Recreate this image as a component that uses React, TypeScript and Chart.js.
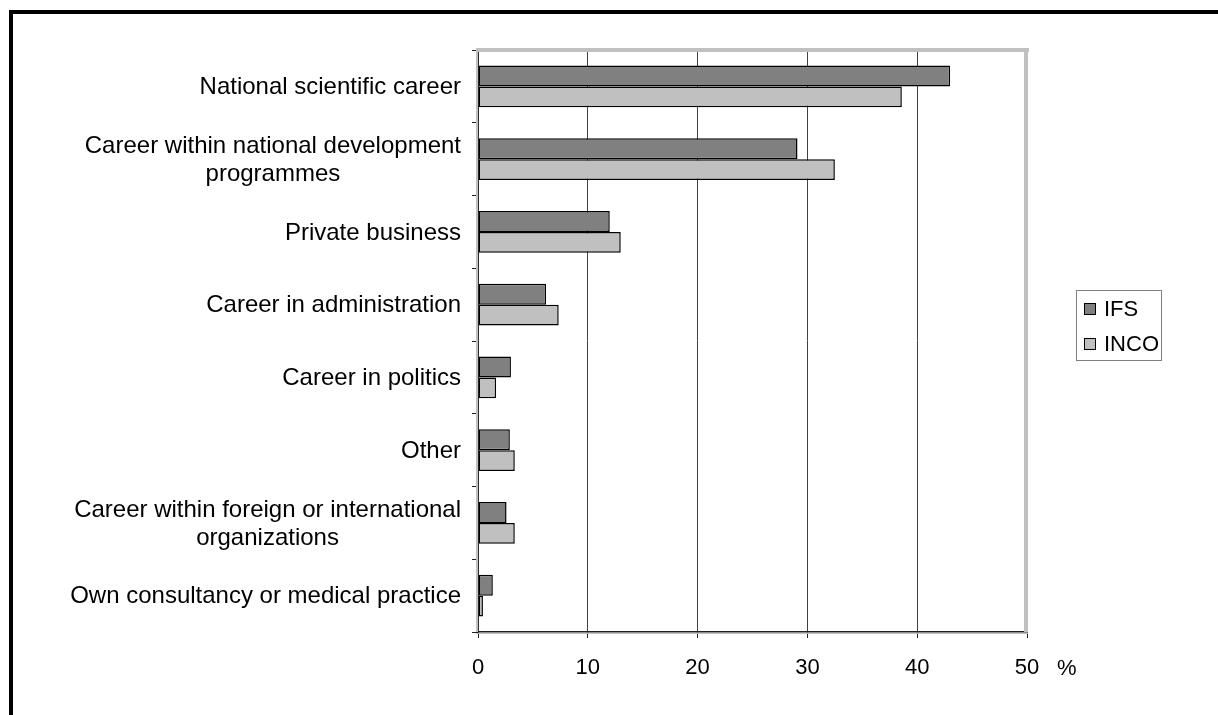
import React, { useEffect, useRef } from "react";
import { Chart, registerables } from "chart.js";

Chart.register(...registerables);

const categories: string[][] = [
  ["National scientific career"],
  ["Career within national development", "programmes"],
  ["Private business"],
  ["Career in administration"],
  ["Career in politics"],
  ["Other"],
  ["Career within foreign or international", "organizations"],
  ["Own consultancy or medical practice"],
];
const seriesNames = ["IFS", "INCO"];
const ifsValues = [43.0, 29.1, 12.0, 6.2, 3.0, 2.9, 2.6, 1.35];
const incoValues = [38.6, 32.5, 13.0, 7.35, 1.65, 3.35, 3.35, 0.45];
const seriesColors = ["#808080", "#c0c0c0"];
const xTicks = [0, 10, 20, 30, 40, 50];
const unitLabel = "%";

const FONT = "'Liberation Sans', Arial, sans-serif";

const decorPlugin = {
  id: "decor",
  beforeDatasetsDraw(chart: any) {
    const { ctx, chartArea } = chart;
    ctx.save();
    ctx.fillStyle = "#c0c0c0";
    ctx.fillRect(chartArea.left, chartArea.top - 2, chartArea.right - chartArea.left + 2, 4);
    ctx.fillRect(chartArea.right - 3, chartArea.top - 2, 4, chartArea.bottom - chartArea.top + 2);
    ctx.fillRect(chartArea.left - 2, chartArea.top - 2, 2, chartArea.bottom - chartArea.top + 2);
    ctx.fillRect(chartArea.left - 2, chartArea.bottom + 1, chartArea.right - chartArea.left + 3, 1);
    ctx.restore();
  },
  afterDraw(chart: any) {
    const { ctx, chartArea } = chart;
    ctx.save();
    ctx.fillStyle = "#000";
    ctx.fillRect(9, 10, 1218, 4);
    ctx.fillRect(9, 10, 4, 715);

    // category labels (multi-line, centred within their block, block right-aligned)
    const ys = chart.scales.y;
    ctx.font = `24px ${FONT}`;
    ctx.textBaseline = "middle";
    ctx.textAlign = "center";
    const lineH = 28;
    const rightEdge = chartArea.left - 6 - 11;
    categories.forEach((lines, i) => {
      const cy = ys.getPixelForTick(i);
      const maxW = Math.max(...lines.map((l) => ctx.measureText(l).width));
      const cx = rightEdge - maxW / 2;
      lines.forEach((l, j) => {
        const y = cy + (j - (lines.length - 1) / 2) * lineH + 1;
        ctx.fillText(l, cx, y);
      });
    });

    const xs = chart.scales.x;
    ctx.font = `22px ${FONT}`;
    ctx.fillStyle = "#000";
    ctx.textAlign = "left";
    ctx.textBaseline = "alphabetic";
    ctx.fillText(unitLabel, xs.getPixelForValue(50) + 30, 675);
    const lx = 1076, ly = 290, lw = 85, lh = 70;
    ctx.strokeStyle = "#808080";
    ctx.lineWidth = 1;
    ctx.strokeRect(lx + 0.5, ly + 0.5, lw, lh);
    seriesNames.forEach((name, i) => {
      const cy = 309 + i * 35;
      ctx.fillStyle = seriesColors[i];
      ctx.fillRect(1084, cy - 6, 12, 12);
      ctx.strokeStyle = "#000";
      ctx.strokeRect(1084.5, cy - 5.5, 11, 11);
      ctx.fillStyle = "#000";
      ctx.textBaseline = "middle";
      ctx.fillText(name, 1104, cy + 1);
    });
    ctx.restore();
  },
};

export default function App() {
  const ref = useRef<HTMLCanvasElement | null>(null);
  useEffect(() => {
    if (!ref.current) return;
    const chart = new Chart(ref.current, {
      type: "bar",
      data: {
        labels: categories,
        datasets: [
          {
            label: seriesNames[0],
            data: ifsValues,
            backgroundColor: seriesColors[0],
            borderColor: "#000",
            borderWidth: 1.5,
            borderSkipped: false,
          },
          {
            label: seriesNames[1],
            data: incoValues,
            backgroundColor: seriesColors[1],
            borderColor: "#000",
            borderWidth: 1.5,
            borderSkipped: false,
          },
        ],
      },
      options: {
        indexAxis: "y",
        animation: false,
        responsive: false,
        devicePixelRatio: 1,
        layout: { padding: { left: 0, top: 50, right: 191, bottom: 0 } },
        datasets: { bar: { categoryPercentage: 0.577, barPercentage: 1 } },
        plugins: {
          legend: { display: false },
          tooltip: { enabled: false },
          title: { display: false },
        },
        scales: {
          x: {
            type: "linear",
            min: 0,
            max: 50,
            afterBuildTicks: (scale: any) => {
              scale.ticks = xTicks.map((v) => ({ value: v }));
            },
            afterFit: (scale: any) => {
              scale.height = 83;
            },
            grid: {
              color: "#404040",
              lineWidth: 1,
              drawTicks: true,
              tickLength: 6,
              tickColor: "#202020",
            },
            border: { display: true, color: "#202020", width: 1.5 },
            ticks: {
              color: "#000",
              font: { family: FONT, size: 22 },
              padding: 17,
              maxRotation: 0,
            },
          },
          y: {
            type: "category",
            afterFit: (scale: any) => {
              scale.width = 478;
            },
            grid: {
              offset: true,
              drawOnChartArea: false,
              drawTicks: true,
              tickLength: 6,
              tickColor: "#202020",
            },
            border: { display: true, color: "#202020", width: 1.5 },
            ticks: {
              display: false,
              autoSkip: false,
            },
          },
        },
      },
      plugins: [decorPlugin],
    } as any);
    return () => chart.destroy();
  }, []);
  return (
    <div style={{ position: "fixed", left: 0, top: 0, width: 1218, height: 715, background: "#fff" }}>
      <canvas ref={ref} width={1218} height={715} style={{ display: "block" }} />
    </div>
  );
}
